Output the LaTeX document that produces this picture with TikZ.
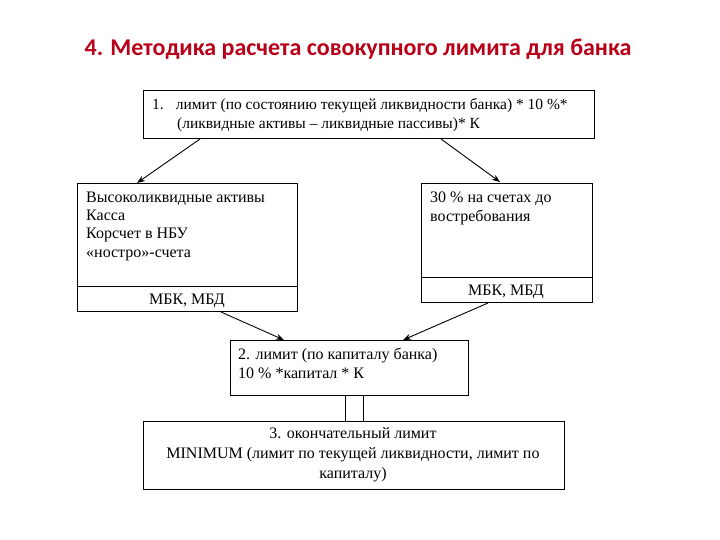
\documentclass[tikz,border=0pt]{standalone}
\usepackage{fontspec}
\setmainfont{Liberation Serif}
\newfontfamily\titlefont{Carlito}
\usetikzlibrary{arrows.meta,calc}
\definecolor{titlered}{RGB}{185,0,25}
\begin{document}
\begin{tikzpicture}[x=1pt,y=-1pt,
  box/.style={draw=black,line width=1.4pt,inner sep=0pt,anchor=north west},
  txt/.style={anchor=base west,inner sep=0pt,font=\fontsize{16}{19}\selectfont},
  ctxt/.style={anchor=base,inner sep=0pt,font=\fontsize{16}{19}\selectfont},
  arr/.style={draw=black,line width=0.9pt,-{Stealth[length=8pt,width=6pt]}}]
\useasboundingbox (0,0) rectangle (720,540);
\fill[white] (0,0) rectangle (720,540);
% title
\node[inner sep=0pt,anchor=base,font=\titlefont\bfseries\fontsize{24}{28}\selectfont,text=titlered] (title) at (358,56) {4. Методика расчета совокупного лимита для банка};
% box 1
\node[box,minimum width=451pt,minimum height=48pt] (b1) at (143,90) {};
\node[txt,font=\fontsize{15.5}{18}\selectfont] (b1a) at (152,110) {1.\hspace{12pt}лимит (по состоянию текущей ликвидности банка) * 10 \%*};
\node[txt,font=\fontsize{15.5}{18}\selectfont] (b1b) at (177,129) {(ликвидные активы – ликвидные пассивы)* К};
% left box
\node[box,minimum width=220pt,minimum height=128pt] (bl) at (77,183) {};
\coordinate (bldl) at (77,286);
\coordinate (bldr) at (297,286);
\draw[line width=1pt] (bldl) -- (bldr);
\node[txt] (bl1) at (86,203) {Высоколиквидные активы};
\node[txt] (bl2) at (86,221) {Касса};
\node[txt] (bl3) at (86,239) {Корсчет в НБУ};
\node[txt] (bl4) at (86,257) {«ностро»-счета};
\node[ctxt] (bl5) at (187,304) {МБК, МБД};
% right box
\node[box,minimum width=171pt,minimum height=119pt] (br) at (421,183) {};
\coordinate (brdl) at (421,277);
\coordinate (brdr) at (592,277);
\draw[line width=1pt] (brdl) -- (brdr);
\node[txt] (br1) at (430,203) {30 \% на счетах до};
\node[txt] (br2) at (430,222) {востребования};
\node[ctxt] (br3) at (506,295) {МБК, МБД};
% box 2
\node[box,minimum width=238pt,minimum height=55pt] (b2) at (230,340) {};
\node[txt] (b2a) at (238,359) {2. лимит (по капиталу банка)};
\node[txt] (b2b) at (238,378) {10 \% *капитал * К};
% box 3
\node[box,minimum width=421pt,minimum height=68pt] (b3) at (143,421) {};
\node[ctxt] (b3a) at (353,438) {3. окончательный лимит};
\node[ctxt] (b3b) at (353,458) {MINIMUM (лимит по текущей ликвидности, лимит по};
\node[ctxt] (b3c) at (353,478) {капиталу)};
% connectors
\coordinate (a1s) at (200,139);
\coordinate (a1e) at (137,183);
\coordinate (a2s) at (441,139);
\coordinate (a2e) at (500,182);
\coordinate (a3s) at (221,312);
\coordinate (a3e) at (284,340);
\coordinate (a4s) at (488,303);
\coordinate (a4e) at (403,340);
\draw[arr] (a1s) -- (a1e);
\draw[arr] (a2s) -- (a2e);
\draw[arr] (a3s) -- (a3e);
\draw[arr] (a4s) -- (a4e);
\coordinate (c1s) at (345,395);
\coordinate (c1e) at (345,421);
\coordinate (c2s) at (363,395);
\coordinate (c2e) at (363,421);
\draw[line width=1pt] (c1s) -- (c1e);
\draw[line width=1pt] (c2s) -- (c2e);
\end{tikzpicture}
\end{document}
